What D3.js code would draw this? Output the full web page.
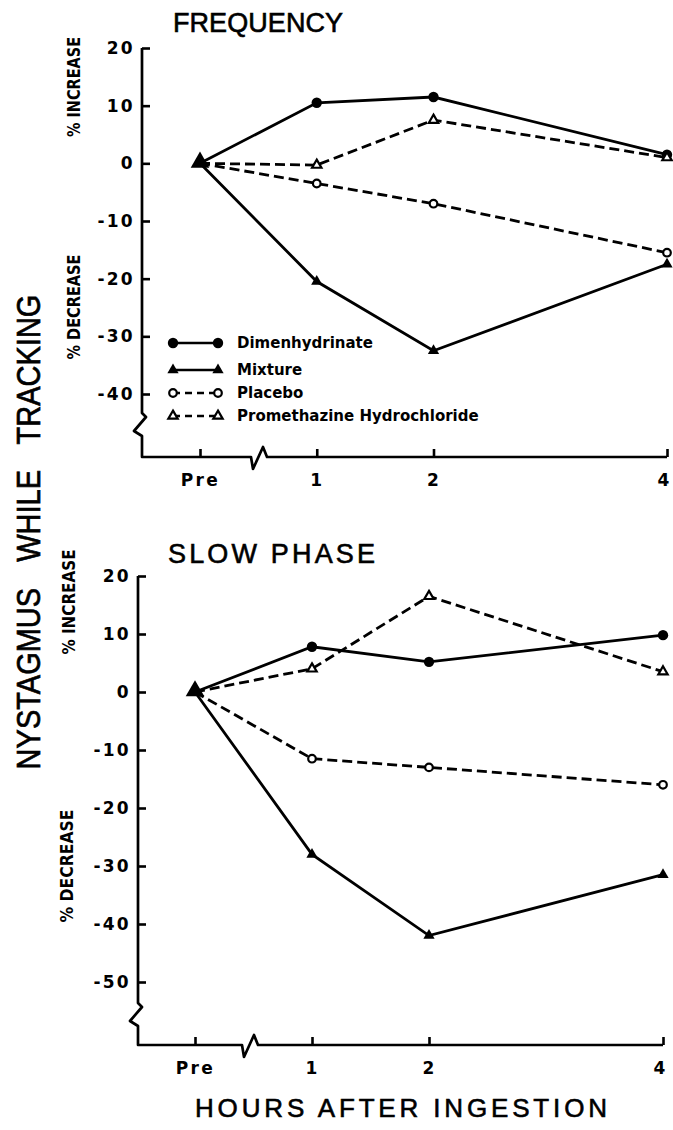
<!DOCTYPE html>
<html>
<head>
<meta charset="utf-8">
<title>Nystagmus while tracking</title>
<script src="https://cdn.jsdelivr.net/npm/d3@7"></script>
<style>
  body { margin: 0; background: #fff; }
  .tick text { font-family: "DejaVu Sans", sans-serif; font-weight: bold; font-size: 17px; letter-spacing: 2.3px; fill: #000; }
  .tick line { stroke: #000; stroke-width: 2.6; }
</style>
</head>
<body>
<script>
// hours after ingestion (Pre = 0)
var hours = [0, 1, 2, 4];
var hourLabels = ["Pre", "1", "2", "4"];
var seriesNames = ["Dimenhydrinate", "Mixture", "Placebo", "Promethazine Hydrochloride"];

// FREQUENCY, % change
var freqDimen   = [0, 10.5, 11.5, 1.5];
var freqMixture = [0, -20.5, -32.5, -17.5];
var freqPlacebo = [0, -3.5, -7, -15.5];
var freqPrometh = [0, -0.3, 7.5, 1];

// SLOW PHASE, % change
var slowDimen   = [0, 7.8, 5.2, 9.8];
var slowMixture = [0, -28, -42, -31.5];
var slowPlacebo = [0, -11.5, -13, -16];
var slowPrometh = [0, 4, 16.5, 3.5];

var freqTicks = [20, 10, 0, -10, -20, -30, -40];
var slowTicks = [20, 10, 0, -10, -20, -30, -40, -50];

var w = 673, h = 1130;

var svg = d3.select("body").append("svg")
  .attr("width", w)
  .attr("height", h)
  .style("background", "#fff");

// marker / line style per series
var styles = [
  {shape: "circle", filled: true,  dash: null},
  {shape: "triangle", filled: true,  dash: null},
  {shape: "circle", filled: false, dash: "10,5"},
  {shape: "triangle", filled: false, dash: "10,5"}
];

function marker(g, st, x, y, big) {
  if (st.shape == "circle") {
    g.append("circle")
      .attr("cx", x).attr("cy", y)
      .attr("r", st.filled ? 5.2 : 3.8)
      .attr("fill", st.filled ? "#000" : "#fff")
      .attr("stroke", "#000")
      .attr("stroke-width", st.filled ? 0 : 2.2);
  } else {
    var size = big ? 150 : (st.filled ? 55 : 38);
    g.append("path")
      .attr("d", d3.symbol(d3.symbolTriangle).size(size))
      .attr("transform", "translate(" + x + "," + (big ? y - 1 : y) + ")")
      .attr("fill", st.filled ? "#000" : "#fff")
      .attr("stroke", "#000")
      .attr("stroke-width", st.filled ? 0 : 2.2);
  }
}

function panel(p) {
  var x = d3.scaleLinear().domain([0, 4]).range([p.x0, p.x4]);
  var y = d3.scaleLinear().domain([p.ticks[p.ticks.length - 1], 20]).range([p.yBottom, p.yTop]);
  var g = svg.append("g");

  // y axis (ticks point inward)
  var ya = g.append("g")
    .attr("transform", "translate(" + p.ax + ",0)")
    .call(d3.axisLeft(y).tickValues(p.ticks).tickSizeInner(-8).tickSizeOuter(0).tickPadding(10)
      .tickFormat(function(d) { return d; }));
  ya.select(".domain").remove();
  ya.selectAll(".tick text").attr("x", -7);

  // x axis
  var xa = g.append("g")
    .attr("transform", "translate(0," + p.axY + ")")
    .call(d3.axisBottom(x).tickValues(hours).tickSizeInner(-8).tickSizeOuter(0).tickPadding(17)
      .tickFormat(function(d, i) { return hourLabels[i]; }));
  xa.select(".domain").remove();
  // the last label sits right at the page edge
  xa.selectAll(".tick text").filter(function(d) { return d === 4; }).attr("dx", -3);

  // axis lines with the break marks
  var yb = p.yBreak, xb = p.xBreak, a = p.ax, b = p.axY;
  var pts = [
    [a, p.yTop], [a, yb], [a + 4, yb + 4], [a - 8, yb + 18], [a, yb + 23], [a, b],
    [xb, b], [xb + 2, b + 12], [xb + 12, b - 10], [xb + 16, b], [p.x4, b]
  ];
  g.append("path")
    .attr("d", d3.line()(pts))
    .attr("fill", "none")
    .attr("stroke", "#000")
    .attr("stroke-width", 2.7)
    .attr("stroke-linejoin", "round");

  // data lines
  var line = d3.line()
    .x(function(d, i) { return x(hours[i]); })
    .y(function(d) { return y(d); });

  p.series.forEach(function(vals, k) {
    g.append("path")
      .attr("d", line(vals))
      .attr("fill", "none")
      .attr("stroke", "#000")
      .attr("stroke-width", 2.8)
      .attr("stroke-dasharray", styles[k].dash);
  });
  p.series.forEach(function(vals, k) {
    vals.forEach(function(v, i) {
      if (i > 0) marker(g, styles[k], x(hours[i]), y(v), false);
    });
  });
  // all series start at 0 at Pre: one large triangle
  marker(g, styles[1], x(0), y(p.series[1][0]), true);

  // title
  g.append("text")
    .attr("x", p.titleX).attr("y", p.titleY)
    .attr("textLength", p.titleLen).attr("lengthAdjust", "spacing")
    .style("font-family", "'Liberation Sans', Arial, sans-serif")
    .style("font-size", "27px")
    .style("stroke", "#000").style("stroke-width", 0.6)
    .text(p.title);

  // % increase / % decrease labels
  [[p.incX, p.incY, p.incLen, "% INCREASE"], [p.decX, p.decY, p.decLen, "% DECREASE"]].forEach(function(t) {
    g.append("text")
      .attr("transform", "translate(" + t[0] + "," + t[1] + ") rotate(-90)")
      .attr("text-anchor", "middle")
      .attr("textLength", t[2]).attr("lengthAdjust", "spacingAndGlyphs")
      .style("font-family", "'DejaVu Sans', sans-serif")
      .style("font-weight", "bold")
      .style("font-size", "17px")
      .text(t[3]);
  });
  return {x: x, y: y, g: g};
}

var top = panel({
  title: "FREQUENCY", titleX: 173, titleY: 32, titleLen: 170,
  x0: 200, x4: 667, ax: 142, axY: 457, yTop: 48, yBottom: 394,
  yBreak: 413, xBreak: 251,
  ticks: freqTicks,
  series: [freqDimen, freqMixture, freqPlacebo, freqPrometh],
  incX: 80, incY: 87, incLen: 100, decX: 80, decY: 307, decLen: 105
});

var bottom = panel({
  title: "SLOW PHASE", titleX: 168, titleY: 563, titleLen: 207,
  x0: 195, x4: 663, ax: 138, axY: 1045, yTop: 576, yBottom: 982,
  yBreak: 1003, xBreak: 242,
  ticks: slowTicks,
  series: [slowDimen, slowMixture, slowPlacebo, slowPrometh],
  incX: 75, incY: 602, incLen: 105, decX: 73, decY: 866, decLen: 113
});

// legend (in the FREQUENCY panel)
var legY = [343, 370, 393, 416];
var leg = svg.append("g");
seriesNames.forEach(function(name, k) {
  leg.append("line")
    .attr("x1", 173).attr("x2", 218)
    .attr("y1", legY[k]).attr("y2", legY[k])
    .attr("stroke", "#000")
    .attr("stroke-width", 2.6)
    .attr("stroke-dasharray", styles[k].dash ? "7,5" : null);
  marker(leg, styles[k], 173, legY[k], false);
  marker(leg, styles[k], 218, legY[k], false);
  leg.append("text")
    .attr("x", 237).attr("y", legY[k])
    .attr("dy", "0.36em")
    .style("font-family", "'DejaVu Sans', sans-serif")
    .style("font-weight", "bold")
    .style("font-size", "15px")
    .text(name);
});

// shared axis titles
svg.append("text")
  .attr("transform", "translate(40,532) rotate(-90) scale(1,1.15)")
  .attr("text-anchor", "middle")
  .style("font-family", "'Liberation Sans', Arial, sans-serif")
  .style("font-size", "29px")
  .style("word-spacing", "18px")
  .style("stroke", "#000").style("stroke-width", 0.6)
  .text("NYSTAGMUS WHILE TRACKING");

svg.append("text")
  .attr("x", 195).attr("y", 1117)
  .attr("textLength", 412).attr("lengthAdjust", "spacing")
  .style("font-family", "'Liberation Sans', Arial, sans-serif")
  .style("font-size", "26px")
  .style("stroke", "#000").style("stroke-width", 0.6)
  .text("HOURS AFTER INGESTION");
</script>
</body>
</html>
